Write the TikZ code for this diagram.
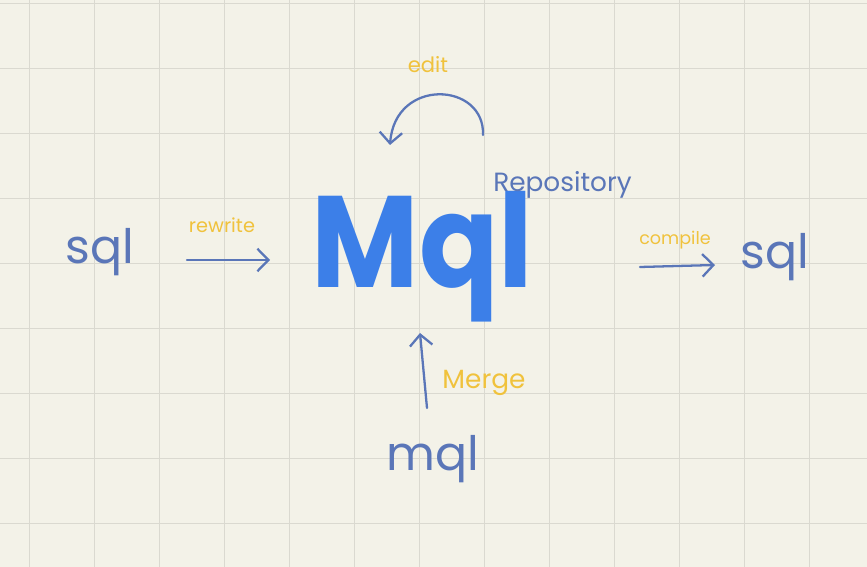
\documentclass[tikz,border=0pt]{standalone}
\usepackage{fontspec}
\setmainfont{Poppins}
\usetikzlibrary{arrows.meta}

\definecolor{bgcream}{HTML}{F3F2E8}
\definecolor{gridgray}{HTML}{DAD9D0}
\definecolor{inkblue}{HTML}{5A76B8}
\definecolor{mqlblue}{HTML}{3C7FE8}
\definecolor{inkyellow}{HTML}{F0C23C}

\begin{document}
\begin{tikzpicture}[
	line join=round,
	line cap=round,
	>={Straight Barb[length=2.2mm,width=4.5mm]},
	ink/.style={inkblue, line width=1.3pt},
	word/.style={inkblue, font=\fontsize{27}{30}\selectfont, inner sep=0pt},
	note/.style={inkyellow, inner sep=0pt}
	]
	
	% Nền giấy
	\fill[bgcream] (0,0) rectangle (17.34,11.34);
	\useasboundingbox (0,0) rectangle (17.34,11.34);
	
	% Lưới
	\foreach \i in {0,...,13}
	{
		\draw[gridgray, thin] ({0.58+1.3*\i},0) -- ++(0,11.34);
	}
	\foreach \j in {0,...,8}
	{
		\draw[gridgray, thin] (0,{11.28-1.3*\j}) -- ++(17.34,0);
	}
	
	% Các chữ chính
	\node[mqlblue, inner sep=0pt, xscale=0.9, font=\fontsize{74}{74}\selectfont\bfseries] (mql) at (8.45,6.2) {Mql};
	\node[word] (sqlin) at (2.0,6.3) {sql};
	\node[word] (sqlout) at (15.5,6.2) {sql};
	\node[word] (mqlsrc) at (8.66,2.15) {mql};
	\node[inkblue, inner sep=0pt, font=\fontsize{15}{16}\selectfont] (repo) at (11.25,7.65) {Repository};
	
	% Các điểm của mũi tên
	\coordinate (rwA) at (3.74,6.14);
	\coordinate (rwB) at (5.4,6.14);
	\coordinate (cpA) at (12.8,6.0);
	\coordinate (cpB) at (14.3,6.04);
	\coordinate (mgA) at (8.54,3.18);
	\coordinate (mgB) at (8.4,4.68);
	\coordinate (edA) at (9.66,8.64);
	\coordinate (edB) at (7.8,8.44);
	
	% Mũi tên
	\draw[ink, ->] (rwA) -- (rwB);
	\draw[ink, ->] (cpA) -- (cpB);
	\draw[ink, ->] (mgA) -- (mgB);
	\draw[ink, ->] (edA) .. controls (9.7,9.7) and (7.9,9.8) .. (edB);
	
	% Nhãn vàng
	\node[note, font=\fontsize{11}{12}\selectfont] (rewrite) at (4.44,6.84) {rewrite};
	\node[note, font=\fontsize{10}{12}\selectfont] (compile) at (13.5,6.54) {compile};
	\node[note, font=\fontsize{12}{12}\selectfont] (edit) at (8.56,10.04) {edit};
	\node[note, font=\fontsize{15}{16}\selectfont] (merge) at (9.68,3.68) {Merge};
	
\end{tikzpicture}
\end{document}
